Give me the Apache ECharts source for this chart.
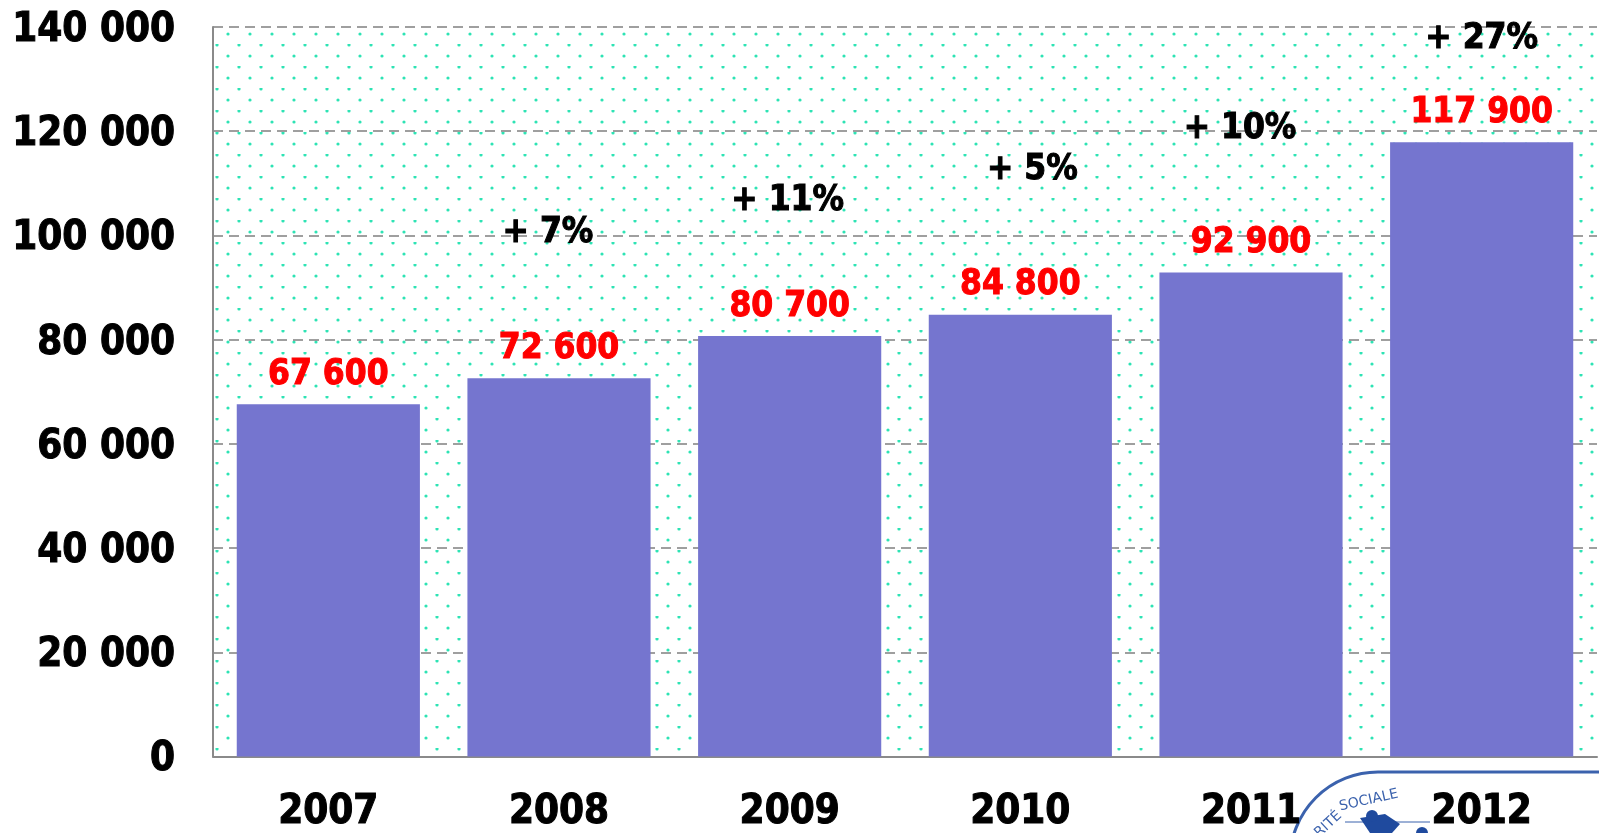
<!DOCTYPE html>
<html>
<head>
<meta charset="utf-8">
<script src="https://cdn.jsdelivr.net/npm/echarts@6/dist/echarts.min.js"></script>
<style>
  html, body { margin: 0; padding: 0; background: #fff; }
  #content { width: 1599px; height: 833px; }
</style>
</head>
<body>
<div id="content"></div>
<script>
// data
const years = ['2007', '2008', '2009', '2010', '2011', '2012']
const totals = [67600, 72600, 80700, 84800, 92900, 117900]
const growth = ['', '+ 7%', '+ 11%', '+ 5%', '+ 10%', '+ 27%']
const yTicks = [0, 20000, 40000, 60000, 80000, 100000, 120000, 140000]

const FONT = '"DejaVu Sans Condensed", "DejaVu Sans", sans-serif'

// thousands with a space, french style
function spaced(v) {
  return String(v).replace(/\B(?=(\d{3})+(?!\d))/g, ' ')
}

// dotted background tile
function dotTile() {
  const c = document.createElement('canvas')
  c.width = 22
  c.height = 22
  const ctx = c.getContext('2d')
  ctx.fillStyle = '#2de3b4'
  ;[[8, 12], [19, 1]].forEach(function (p) {
    ctx.beginPath()
    ctx.arc(p[0], p[1], 1.6, 0, Math.PI * 2)
    ctx.fill()
  })
  return c
}

// where the growth labels sit relative to the bar top (layout only)
const pctNudge = [[0, 0], [-11, -116], [-2, -106], [12, -115], [-11, -114], [0, -74]]

const axisText = {
  color: '#000',
  fontSize: 40,
  fontWeight: 'bold',
  fontFamily: FONT,
  textBorderColor: '#000',
  textBorderWidth: 1
}

const myChart = echarts.init(document.querySelector('#content'))
myChart.setOption({
  animation: false,
  grid: {
    left: 213,
    right: 2,
    top: 27,
    bottom: 71,
    show: true,
    borderWidth: 0,
    backgroundColor: {image: dotTile(), repeat: 'repeat'}
  },
  xAxis: {
    type: 'category',
    data: years,
    axisTick: {show: false},
    axisLine: {lineStyle: {color: '#8a8a8a', width: 2}},
    axisLabel: Object.assign({margin: 36}, axisText)
  },
  yAxis: {
    type: 'value',
    min: yTicks[0],
    max: yTicks[yTicks.length - 1],
    interval: yTicks[1] - yTicks[0],
    axisLine: {show: true, lineStyle: {color: '#8a8a8a', width: 2}},
    axisTick: {show: false},
    splitLine: {lineStyle: {color: '#808080', width: 1.5, type: [10, 6]}},
    axisLabel: Object.assign({
      margin: 38,
      formatter: function (v) { return '{v|' + spaced(v) + '}' },
      rich: {v: Object.assign({padding: [7, 0, 0, 0]}, axisText)}
    }, axisText)
  },
  series: [
    {
      name: 'total',
      type: 'bar',
      data: totals,
      barCategoryGap: '20.6%',
      itemStyle: {color: '#7575cf'},
      label: {
        show: true,
        position: 'top',
        distance: 12,
        color: '#ff0000',
        fontSize: 35,
        fontWeight: 'bold',
        fontFamily: FONT,
        textBorderColor: '#ff0000',
        textBorderWidth: 1,
        formatter: function (p) { return spaced(p.value) }
      },
      z: 3
    },
    {
      name: 'growth',
      type: 'bar',
      barGap: '-100%',
      silent: true,
      itemStyle: {color: 'transparent'},
      data: totals.map(function (v, i) {
        return {
          value: v,
          label: {offset: pctNudge[i]}
        }
      }),
      label: {
        show: true,
        position: 'top',
        distance: 12,
        color: '#000',
        fontSize: 35,
        fontWeight: 'bold',
        fontFamily: FONT,
        textBorderColor: '#000',
        textBorderWidth: 1,
        formatter: function (p) { return growth[p.dataIndex] }
      },
      z: 4
    }
  ],
  // corner of the logo stamp, cut by the frame, kept under the axis labels
  graphic: [
    {
      type: 'rect',
      shape: {x: 1290, y: 772, width: 330, height: 120, r: [88, 0, 0, 0]},
      style: {fill: '#fff', stroke: '#3b62ad', lineWidth: 3},
      z: -2
    },
    {
      type: 'text',
      x: 1312,
      y: 830,
      rotation: 0.75,
      style: {text: 'RITÉ', fill: '#3b62ad', font: '14px "DejaVu Sans"'},
      z: -1
    },
    {
      type: 'text',
      x: 1338,
      y: 800,
      rotation: 0.22,
      style: {text: 'SOCIALE', fill: '#3b62ad', font: '14px "DejaVu Sans"'},
      z: -1
    },
    {
      type: 'line',
      shape: {x1: 1345, y1: 822, x2: 1430, y2: 822},
      style: {stroke: '#3b62ad', lineWidth: 1},
      z: -1
    },
    {
      type: 'polygon',
      shape: {points: [[1360, 818], [1385, 814], [1400, 824], [1392, 833], [1370, 833]]},
      style: {fill: '#1f4a9e'},
      z: -1
    },
    {
      type: 'circle',
      shape: {cx: 1372, cy: 816, r: 6},
      style: {fill: '#1f4a9e'},
      z: -1
    },
    {
      type: 'circle',
      shape: {cx: 1422, cy: 833, r: 6},
      style: {fill: '#1f4a9e'},
      z: -1
    }
  ]
})
</script>
</body>
</html>
